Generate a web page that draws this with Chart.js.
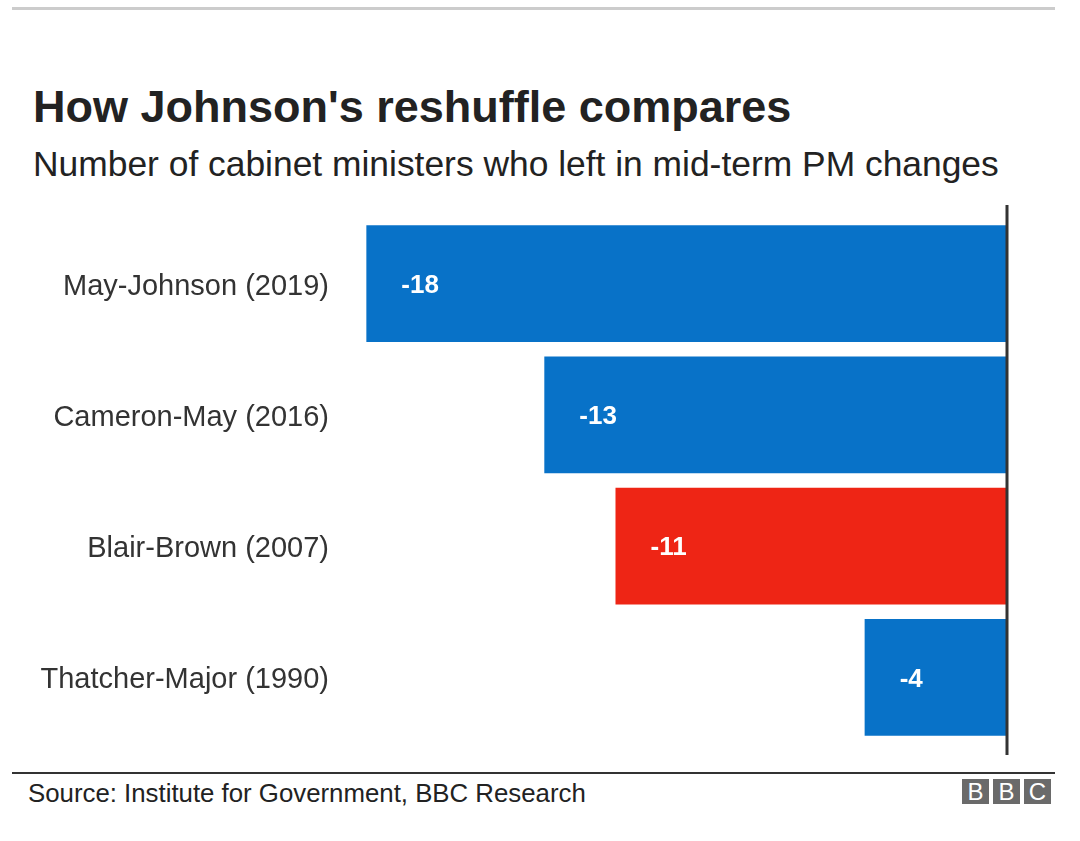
<!DOCTYPE html>
<html>

<head>
  <meta charset="utf-8">
  <title>How Johnson's reshuffle compares</title>
  <script src="https://cdn.jsdelivr.net/npm/chart.js@4.4.0/dist/chart.umd.min.js"></script>
  <style>
    html,
    body {
      margin: 0;
      padding: 0;
      background: #fff;
      font-family: "Liberation Sans", Arial, sans-serif;
      color: #222;
    }

    #topline {
      position: absolute;
      left: 12px;
      top: 7px;
      width: 1043px;
      height: 3px;
      background: #cccccc;
    }

    h1 {
      position: absolute;
      left: 33px;
      top: 81px;
      margin: 0;
      font-size: 45px;
      font-weight: bold;
      color: #222;
      white-space: nowrap;
    }

    h2 {
      position: absolute;
      left: 33px;
      top: 144px;
      margin: 0;
      font-size: 35.4px;
      font-weight: normal;
      color: #222;
      white-space: nowrap;
    }

    #wrap {
      position: absolute;
      left: 0;
      top: 195px;
      width: 1080px;
      height: 570px;
    }

    #bottomline {
      position: absolute;
      left: 12px;
      top: 772px;
      width: 1043px;
      height: 2px;
      background: #333;
    }

    #source {
      position: absolute;
      left: 28px;
      top: 779px;
      font-size: 25.8px;
      color: #222;
      white-space: nowrap;
    }

    #bbc {
      position: absolute;
      left: 962px;
      top: 779px;
      display: flex;
      gap: 4px;
    }

    #bbc span {
      display: block;
      width: 27px;
      height: 25px;
      line-height: 26px;
      background: #6a6a6a;
      color: #fff;
      font-size: 24px;
      text-align: center;
    }
  </style>
</head>

<body>
  <div id="topline"></div>
  <h1>How Johnson's reshuffle compares</h1>
  <h2>Number of cabinet ministers who left in mid-term PM changes</h2>
  <div id="wrap"><canvas id="chart"></canvas></div>
  <div id="bottomline"></div>
  <div id="source">Source: Institute for Government, BBC Research</div>
  <div id="bbc"><span>B</span><span>B</span><span>C</span></div>
  <script>
    var categories = ['May-Johnson (2019)', 'Cameron-May (2016)', 'Blair-Brown (2007)', 'Thatcher-Major (1990)'];
    var ministersLeft = [-18, -13, -11, -4];
    var barColours = ['#0872c8', '#0872c8', '#ee2515', '#0872c8'];

    // value labels inside the bars, near their left end
    var barLabels = {
      id: 'barLabels',
      afterDatasetsDraw: function(chart) {
        var ctx = chart.ctx;
        var meta = chart.getDatasetMeta(0);
        ctx.save();
        ctx.fillStyle = '#fff';
        ctx.font = 'bold 26px "Liberation Sans", Arial, sans-serif';
        ctx.textAlign = 'left';
        ctx.textBaseline = 'middle';
        meta.data.forEach(function(bar, i) {
          ctx.fillText(String(ministersLeft[i]), bar.x + 35, bar.y + 2);
        });
        ctx.restore();
      }
    };

    // vertical zero line
    var zeroLine = {
      id: 'zeroLine',
      afterDatasetsDraw: function(chart) {
        var ctx = chart.ctx;
        var x = chart.scales.x.getPixelForValue(0);
        ctx.save();
        ctx.strokeStyle = '#333';
        ctx.lineWidth = 3;
        ctx.beginPath();
        ctx.moveTo(x, chart.chartArea.top - 13);
        ctx.lineTo(x, chart.chartArea.bottom + 12);
        ctx.stroke();
        ctx.restore();
      }
    };

    var ctx = document.getElementById('chart').getContext('2d');
    window.chart = new Chart(ctx, {
      type: 'bar',
      data: {
        labels: categories,
        datasets: [{
          data: ministersLeft,
          backgroundColor: barColours,
          barPercentage: 0.89,
          categoryPercentage: 1
        }]
      },
      options: {
        indexAxis: 'y',
        responsive: true,
        maintainAspectRatio: false,
        animation: false,
        layout: {
          padding: { left: 0, right: 73, top: 23, bottom: 22 }
        },
        scales: {
          x: {
            display: false,
            min: -18.6,
            max: 0
          },
          y: {
            grid: { display: false },
            border: { display: false },
            ticks: {
              color: '#333',
              padding: 8,
              labelOffset: 3,
              font: { family: '"Liberation Sans", Arial, sans-serif', size: 29 }
            },
            afterFit: function(scale) {
              scale.width = 345;
              scale.paddingTop = 0;
              scale.paddingBottom = 0;
            }
          }
        },
        plugins: {
          legend: { display: false },
          tooltip: { enabled: false }
        }
      },
      plugins: [barLabels, zeroLine]
    });
  </script>
</body>

</html>
